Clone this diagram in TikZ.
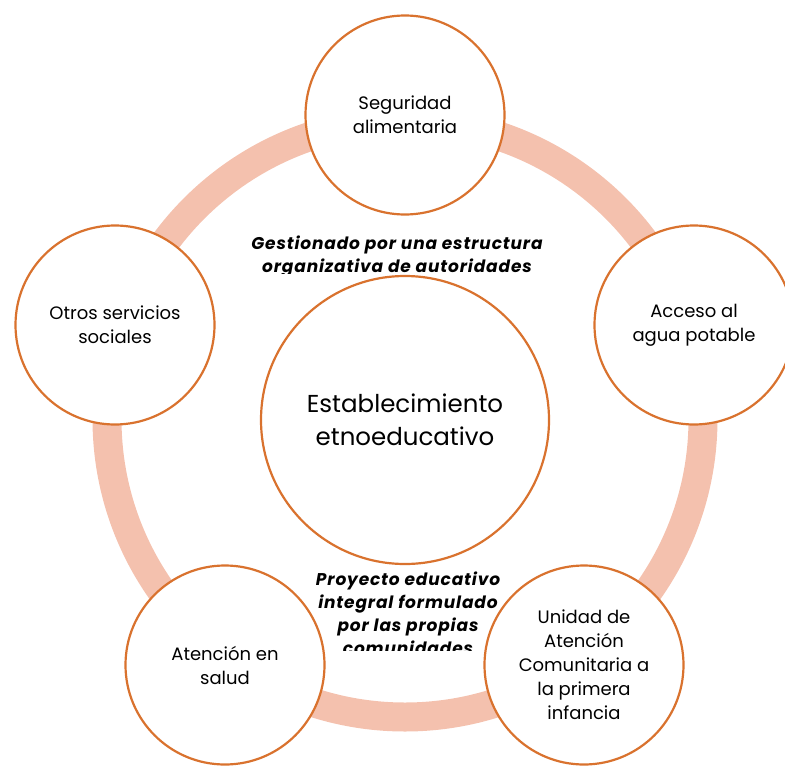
\documentclass[tikz,border=0pt]{standalone}
\usepackage{fontspec}
\setmainfont{Poppins}
\newfontfamily\obfont{Poppins}[LetterSpace=5]
\definecolor{ringc}{RGB}{244,193,174}
\definecolor{edgec}{RGB}{217,114,46}
\tikzset{
  outercirc/.style={circle, draw=edgec, line width=2.2pt, fill=white,
    minimum size=199pt, inner sep=0pt, align=center,
    font=\fontsize{18}{24}\selectfont},
  centercirc/.style={circle, draw=edgec, line width=2.2pt, fill=white,
    minimum size=288pt, inner sep=0pt, align=center,
    font=\fontsize{24.5}{33}\selectfont},
  oblabel/.style={inner sep=0pt, align=center, anchor=base}
}
\begin{document}
\begin{tikzpicture}[x=1pt,y=-1pt]
\useasboundingbox (0,0) rectangle (785,766);
\clip (0,0) rectangle (785,766);
\coordinate (o) at (405,419);
\draw[ringc, line width=29pt] (o) circle[radius=298pt];
\node[centercirc] (c) at (405,420) {Establecimiento\\etnoeducativo};
\node[outercirc] (top) at (405,115) {Seguridad\\alimentaria};
\node[outercirc] (right) at (694,325) {Acceso al\\agua potable};
\node[outercirc] (left) at (115,325) {Otros servicios\\sociales};
\node[outercirc] (bl) at (225,665) {Atención en\\salud};
\node[outercirc] (br) at (584,665) {Unidad de\\Atención\\Comunitaria a\\la primera\\infancia};
\begin{scope}
\clip (200,200) rectangle (600,273.5);
\node[oblabel, font=\obfont\fontsize{17}{23}\selectfont\bfseries\itshape] (t1) at (397,272)
  {Gestionado por una estructura\\organizativa de autoridades};
\end{scope}
\begin{scope}
\clip (250,560) rectangle (560,650);
\node[oblabel, font=\obfont\fontsize{17}{23}\selectfont\bfseries\itshape] (t2) at (408,654)
  {Proyecto educativo\\integral formulado\\por las propias\\comunidades};
\end{scope}
\end{tikzpicture}
\end{document}
